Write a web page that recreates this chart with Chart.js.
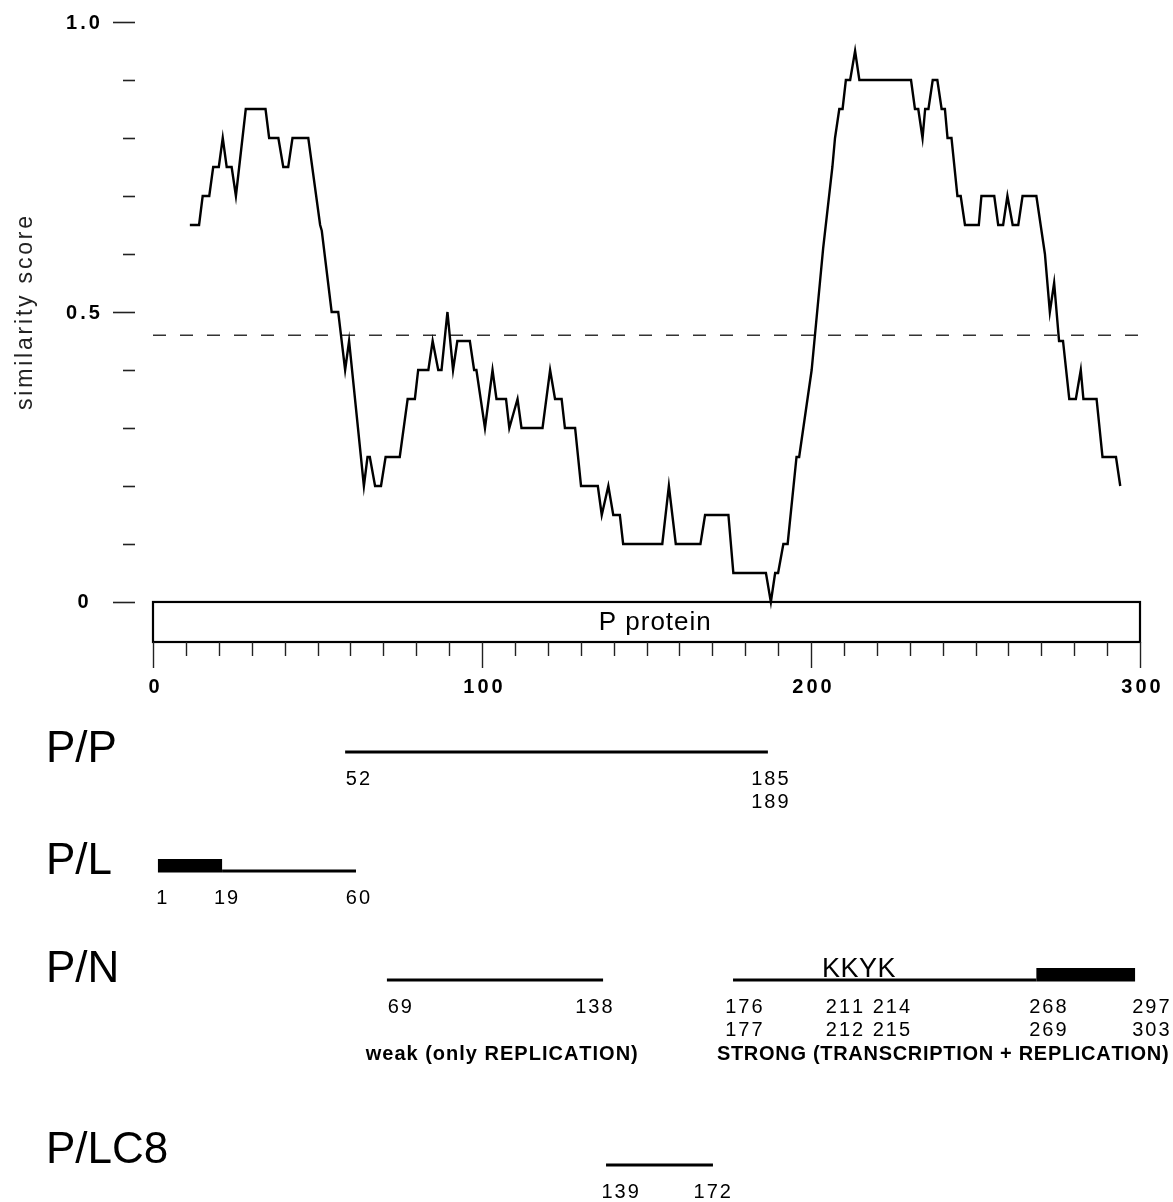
<!DOCTYPE html>
<html>
<head>
<meta charset="utf-8">
<script src="https://cdn.jsdelivr.net/npm/chart.js@4.4.0/dist/chart.umd.min.js"></script>
<style>
  html, body { margin: 0; padding: 0; background: #fff; }
  canvas { display: block; }
</style>
</head>
<body>
<canvas id="chart" width="1173" height="1202"></canvas>
<script>
// residue position along the P protein and the similarity score at that point
const residue = [11.2, 14, 15.1, 17.1, 18.3, 20, 21.2, 22.4, 23.9, 25.2, 28.2, 34.2, 35.3, 38.1, 39.6, 41.1, 42.4, 47.2,
  50.8, 51.3, 54.3, 56.3, 58.4, 59.6, 64.1, 65.2, 65.9, 67.5, 69.3, 70.7, 75, 77.4, 79.6, 80.6, 83.7, 85, 86.7, 87.7,
  89.5, 91.2, 92.5, 96.3, 97.6, 98.3, 100.9, 103.2, 104.4, 107.3, 108.3, 110.8, 112, 118.4, 120.7, 122.2, 124.2, 125.2,
  128.3, 130.1, 135.2, 136.4, 138.4, 139.9, 141.9, 142.9, 154.8, 156.8, 158.9, 166.4, 167.8, 174.9, 176.4, 186.3,
  187.8, 189.1, 190, 191.6, 192.9, 195.6, 196.4, 200.2, 202.7, 203.7, 206.5, 207.3, 208.6, 209.6, 210.6, 211.9,
  213.4, 214.7, 230.4, 231.6, 232.6, 233.9, 234.7, 235.7, 237, 238.4, 239.7, 240.7, 241.5, 242.7, 244.5, 245.5,
  246.8, 251, 251.8, 255.7, 256.9, 258.4, 259.7, 261.3, 263, 264.3, 268.5, 271.1, 272.6, 273.9, 275.4, 276.6,
  278.5, 280.5, 282, 282.8, 286.8, 288.6, 292.7, 294];
const score = [0.65, 0.65, 0.70, 0.70, 0.75, 0.75, 0.80, 0.75, 0.75, 0.70, 0.85, 0.85, 0.80, 0.80, 0.75, 0.75, 0.80, 0.80,
  0.65, 0.64, 0.50, 0.50, 0.40, 0.45, 0.20, 0.25, 0.25, 0.20, 0.20, 0.25, 0.25, 0.35, 0.35, 0.40, 0.40, 0.45, 0.40, 0.40,
  0.50, 0.40, 0.45, 0.45, 0.40, 0.40, 0.30, 0.40, 0.35, 0.35, 0.30, 0.35, 0.30, 0.30, 0.40, 0.35, 0.35, 0.30,
  0.30, 0.20, 0.20, 0.15, 0.20, 0.15, 0.15, 0.10, 0.10, 0.20, 0.10, 0.10, 0.15, 0.15, 0.05, 0.05,
  0, 0.05, 0.05, 0.10, 0.10, 0.25, 0.25, 0.40, 0.55, 0.61, 0.75, 0.80, 0.85, 0.85, 0.90, 0.90,
  0.95, 0.90, 0.90, 0.85, 0.85, 0.80, 0.85, 0.85, 0.90, 0.90, 0.85, 0.85, 0.80, 0.80, 0.70, 0.70,
  0.65, 0.65, 0.70, 0.70, 0.65, 0.65, 0.70, 0.65, 0.65, 0.70, 0.70, 0.60, 0.50, 0.55, 0.45, 0.45,
  0.35, 0.35, 0.40, 0.35, 0.35, 0.25, 0.25, 0.20];

const cutoff = 0.46;
const cutoffRange = [0, 301];

const yTicks = [0, 0.1, 0.2, 0.3, 0.4, 0.5, 0.6, 0.7, 0.8, 0.9, 1.0];
const yTickLabels = { 0: '0', 0.5: '0.5', 1: '1.0' };
const xTicks = [0, 10, 20, 30, 40, 50, 60, 70, 80, 90, 100, 110, 120, 130, 140, 150, 160, 170, 180, 190,
  200, 210, 220, 230, 240, 250, 260, 270, 280, 290, 300];
const xTickLabels = [0, 100, 200, 300];

// interaction domains (in residues, as drawn under the axis)
const thinSegments = [
  { row: 'P/P', from: 58.4, to: 186.9 },
  { row: 'P/L', from: 21, to: 61.7 },
  { row: 'P/N', from: 71.1, to: 136.8 },
  { row: 'P/N', from: 176.3, to: 268.5 },
  { row: 'P/LC8', from: 137.7, to: 170.2 }
];
const thickSegments = [
  { row: 'P/L', from: 1.5, to: 21 },
  { row: 'P/N', from: 268.5, to: 298.5 }
];
const residueLabels = [
  { row: 'P/P', line: 0, text: '52', at: 62.3 },
  { row: 'P/P', line: 0, text: '185', at: 187.5 },
  { row: 'P/P', line: 1, text: '189', at: 187.5 },
  { row: 'P/L', line: 0, text: '1', at: 2.7 },
  { row: 'P/L', line: 0, text: '19', at: 22.2 },
  { row: 'P/L', line: 0, text: '60', at: 62.3 },
  { row: 'P/N', line: 0, text: '69', at: 75 },
  { row: 'P/N', line: 0, text: '138', at: 134 },
  { row: 'P/N', line: 0, text: '176', at: 179.6 },
  { row: 'P/N', line: 0, text: '211 214', at: 217.3 },
  { row: 'P/N', line: 0, text: '268', at: 272 },
  { row: 'P/N', line: 0, text: '297', at: 303.3 },
  { row: 'P/N', line: 1, text: '177', at: 179.6 },
  { row: 'P/N', line: 1, text: '212 215', at: 217.3 },
  { row: 'P/N', line: 1, text: '269', at: 272 },
  { row: 'P/N', line: 1, text: '303', at: 303.3 },
  { row: 'P/LC8', line: 0, text: '139', at: 142 },
  { row: 'P/LC8', line: 0, text: '172', at: 170 }
];

// layout of the rows below the plot (pixels)
const rows = {
  'P/P': { title: 750, bar: 752, labels: 779 },
  'P/L': { title: 862, bar: 871, labels: 898 },
  'P/N': { title: 970, bar: 980, labels: 1007 },
  'P/LC8': { title: 1151, bar: 1165, labels: 1192 }
};

const FONT = '"Liberation Sans", Arial, Helvetica, sans-serif';

function spacedText(ctx, text, x, y, gap, align) {
  const chars = [...text];
  const widths = chars.map(c => ctx.measureText(c).width);
  const total = widths.reduce((a, b) => a + b, 0) + gap * (chars.length - 1);
  let start = x;
  if (align === 'center') start = x - total / 2;
  if (align === 'right') start = x - total;
  ctx.textAlign = 'left';
  chars.forEach((c, i) => {
    ctx.fillText(c, start, y);
    start += widths[i] + gap;
  });
}

const figurePlugin = {
  id: 'figure',
  beforeDatasetsDraw(chart) {
    const ctx = chart.ctx;
    const x = chart.scales.x, y = chart.scales.y;
    const area = chart.chartArea;
    ctx.save();
    // P protein box
    const left = x.getPixelForValue(0), right = x.getPixelForValue(300);
    const top = y.getPixelForValue(0), bottom = area.bottom;
    ctx.fillStyle = '#fff';
    ctx.fillRect(left, top, right - left, bottom - top);
    ctx.strokeStyle = '#000';
    ctx.lineWidth = 2.2;
    ctx.strokeRect(left, top, right - left, bottom - top);
    ctx.fillStyle = '#000';
    ctx.font = '26px ' + FONT;
    ctx.textBaseline = 'middle';
    spacedText(ctx, 'P protein', x.getPixelForValue(152.5), (top + bottom) / 2 + 1, 1, 'center');
    ctx.restore();
  },
  afterDatasetsDraw(chart) {
    const ctx = chart.ctx;
    const x = chart.scales.x, y = chart.scales.y;
    const area = chart.chartArea;
    ctx.save();

    // y ticks
    ctx.strokeStyle = '#222';
    ctx.lineWidth = 1.6;
    yTicks.forEach(v => {
      const py = Math.round(y.getPixelForValue(v)) + 0.5;
      const major = yTickLabels[v] !== undefined;
      ctx.beginPath();
      ctx.moveTo(major ? 113 : 123, py);
      ctx.lineTo(135, py);
      ctx.stroke();
    });
    ctx.fillStyle = '#000';
    ctx.font = 'bold 20px ' + FONT;
    ctx.textBaseline = 'middle';
    yTicks.forEach(v => {
      if (yTickLabels[v] === undefined) return;
      spacedText(ctx, yTickLabels[v], 83, y.getPixelForValue(v) + 1, 3, 'center');
    });

    // y title
    ctx.save();
    ctx.translate(26, y.getPixelForValue(0.5) + 1);
    ctx.rotate(-Math.PI / 2);
    ctx.font = '23px ' + FONT;
    ctx.fillStyle = '#222';
    ctx.textBaseline = 'middle';
    spacedText(ctx, 'similarity score', 0, 0, 2.8, 'center');
    ctx.restore();

    // x ticks under the box
    ctx.strokeStyle = '#222';
    ctx.lineWidth = 1.4;
    xTicks.forEach(v => {
      const px = Math.round(x.getPixelForValue(v)) + 0.5;
      const major = xTickLabels.includes(v);
      ctx.beginPath();
      ctx.moveTo(px, area.bottom);
      ctx.lineTo(px, area.bottom + (major ? 26 : 14));
      ctx.stroke();
    });
    ctx.font = 'bold 20px ' + FONT;
    xTickLabels.forEach(v => {
      spacedText(ctx, String(v), x.getPixelForValue(v) + 1, 687, 3, 'center');
    });

    // interaction rows
    ctx.fillStyle = '#000';
    ctx.font = '44px ' + FONT;
    ctx.textBaseline = 'middle';
    Object.keys(rows).forEach(name => {
      spacedText(ctx, name, 46, rows[name].title, 0, 'left');
    });

    ctx.strokeStyle = '#000';
    ctx.lineWidth = 3;
    thinSegments.forEach(s => {
      const py = rows[s.row].bar;
      ctx.beginPath();
      ctx.moveTo(x.getPixelForValue(s.from), py);
      ctx.lineTo(x.getPixelForValue(s.to), py);
      ctx.stroke();
    });
    thickSegments.forEach(s => {
      const py = rows[s.row].bar;
      const x0 = x.getPixelForValue(s.from), x1 = x.getPixelForValue(s.to);
      ctx.fillRect(x0, py - 12, x1 - x0, 13.5);
    });

    ctx.font = '20px ' + FONT;
    residueLabels.forEach(l => {
      const py = rows[l.row].labels + l.line * 23;
      spacedText(ctx, l.text, x.getPixelForValue(l.at), py, 2, 'center');
    });

    // motif and binding notes
    ctx.font = '27px ' + FONT;
    ctx.textBaseline = 'alphabetic';
    spacedText(ctx, 'KKYK', x.getPixelForValue(214.5), 977, 0.5, 'center');
    ctx.textBaseline = 'middle';
    ctx.font = 'bold 20px ' + FONT;
    spacedText(ctx, 'weak (only REPLICATION)', x.getPixelForValue(106), 1054, 1, 'center');
    spacedText(ctx, 'STRONG (TRANSCRIPTION + REPLICATION)', x.getPixelForValue(171.4), 1054, 0.7, 'left');

    ctx.restore();
  }
};

new Chart(document.getElementById('chart'), {
  type: 'line',
  data: {
    datasets: [
      {
        label: 'similarity',
        data: residue.map((r, i) => ({ x: r, y: score[i] })),
        borderColor: '#000',
        borderWidth: 2.4,
        pointRadius: 0,
        tension: 0,
        fill: false
      },
      {
        label: 'cutoff',
        data: cutoffRange.map(r => ({ x: r, y: cutoff })),
        borderColor: '#333',
        borderWidth: 1.4,
        borderDash: [13, 14],
        pointRadius: 0,
        fill: false,
        clip: false
      }
    ]
  },
  options: {
    responsive: false,
    animation: false,
    layout: { padding: { left: 153, right: 33, top: 22, bottom: 560 } },
    plugins: { legend: { display: false }, tooltip: { enabled: false } },
    scales: {
      x: { type: 'linear', min: 0, max: 300, display: false },
      y: { type: 'linear', min: -0.069, max: 1.0, display: false }
    }
  },
  plugins: [figurePlugin]
});
</script>
</body>
</html>
